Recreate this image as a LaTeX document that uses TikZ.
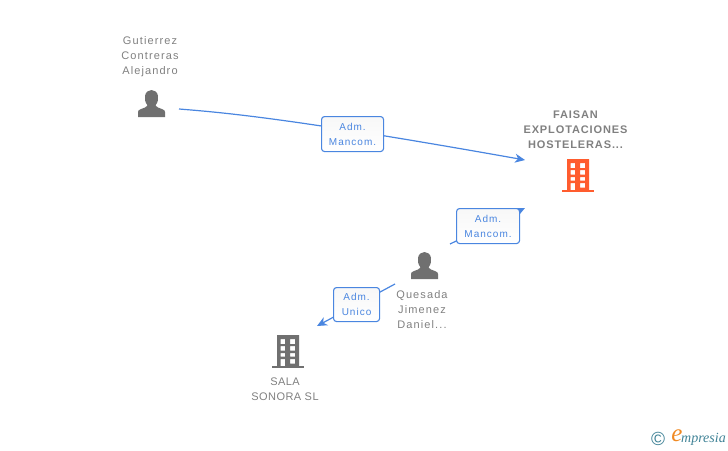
\documentclass[tikz,border=0pt]{standalone}
\usepackage{fontspec}
\setmainfont{Liberation Sans}
\newfontfamily\spaced[LetterSpace=10]{Liberation Sans}
\newfontfamily\tightspaced[LetterSpace=4]{Liberation Sans}
\newfontfamily\spacedbold[LetterSpace=8]{Liberation Sans Bold}
\newfontfamily\logofont{Liberation Serif Italic}
\usetikzlibrary{arrows.meta}
\definecolor{linkblue}{HTML}{4A86E0}
\definecolor{labelgray}{HTML}{808080}
\definecolor{icongray}{HTML}{707070}
\definecolor{iconorange}{HTML}{FF5C2E}
\definecolor{logoteal}{HTML}{3F8296}
\definecolor{logoorange}{HTML}{F08A24}
\tikzset{
  x=1pt,y=-1pt,
  namelabel/.style={text=labelgray,align=center,inner sep=0pt,
    font=\fontsize{11}{15}\selectfont\spaced},
  salalabel/.style={text=labelgray,align=center,inner sep=0pt,
    font=\fontsize{11}{15}\selectfont\tightspaced},
  boldlabel/.style={text=labelgray,align=center,inner sep=0pt,
    font=\fontsize{11}{15}\selectfont\spacedbold},
  rolebox/.style={draw=linkblue,line width=1.1pt,rounded corners=3pt,
    top color=black!3,bottom color=white,text=linkblue,align=center,
    inner sep=0pt,anchor=north west,
    font=\fontsize{10}{15}\selectfont\spaced},
  link/.style={draw=linkblue,line width=1.2pt,
    -{Stealth[length=10pt,width=9pt,inset=3pt]}},
  person/.pic={
    \fill[icongray] (-13.5,13) -- (-13.5,8) .. controls (-13.5,5.5) and (-10,5) .. (-6.5,3.5)
      -- (-4,1.5) .. controls (-6.5,-2) and (-7,-5) .. (-6.5,-8)
      .. controls (-6,-12) and (-3,-14) .. (0,-14)
      .. controls (3,-14) and (6,-12) .. (6.5,-8)
      .. controls (7,-5) and (6.5,-2) .. (4,1.5)
      -- (6.5,3.5) .. controls (10,5) and (13.5,5.5) .. (13.5,8)
      -- (13.5,13) -- cycle;
  },
  building/.pic={
    \fill[pic actions,even odd rule]
      (0,0) rectangle (22,31)
      (3.7,4) rectangle (8.2,9)
      (13,4) rectangle (18,9)
      (3.7,11) rectangle (8.2,15.5)
      (13,11) rectangle (18,15.5)
      (3.7,18) rectangle (8.2,21.5)
      (13,18) rectangle (18,21.5)
      (3.7,24) rectangle (8.2,31)
      (13,24) rectangle (18,28.5);
    \fill[pic actions] (-5,31) rectangle (27,33);
  },
}
\begin{document}
\begin{tikzpicture}
\useasboundingbox (0,0) rectangle (728,450);

% free ends of the connectors
\coordinate (g1) at (179,109);
\coordinate (f1) at (525,160);
\coordinate (q1) at (450,244);
\coordinate (f2) at (525,208);
\coordinate (q2) at (395,284);
\coordinate (s1) at (317,326);

% connectors
\draw[link] (g1) .. controls (230,113) and (300,120) .. (f1);
\draw[link] (q1) -- (f2);
\draw[link] (q2) -- (s1);

% role boxes
\node[rolebox,minimum width=62pt,minimum height=35pt] (r1) at (321,116) {\raisebox{-1pt}{Adm.}\\\raisebox{-1pt}{Mancom.}};
\node[rolebox,minimum width=63pt,minimum height=35pt] (r2) at (456,208) {\raisebox{-1pt}{Adm.}\\\raisebox{-1pt}{Mancom.}};
\node[rolebox,minimum width=46pt,minimum height=34pt] (r3) at (333,287) {\raisebox{-1pt}{Adm.}\\\raisebox{-1pt}{Unico}};

% icons
\pic at (151.5,104) {person};
\pic at (424.5,266) {person};
\pic[fill=iconorange] at (567,159) {building};
\pic[fill=icongray] at (277,335) {building};

% names
\node[namelabel] (gutierrez) at (150,56.5) {Gutierrez\\Contreras\\Alejandro};
\node[boldlabel] (faisan) at (575.5,130) {FAISAN\\EXPLOTACIONES\\HOSTELERAS...};
\node[namelabel] (quesada) at (422,309.5) {Quesada\\Jimenez\\Daniel...};
\node[salalabel] (sala) at (285,389) {SALA\\SONORA SL};

% logo
\node[inner sep=0pt,text=logoteal] (copy) at (658,438.5) {\fontsize{19}{19}\selectfont\textcopyright};
\node[inner sep=0pt,text=logoorange,font=\fontsize{25}{25}\selectfont\logofont] (logoe) at (677,436) {e};
\node[inner sep=0pt,text=logoteal,anchor=west,font=\fontsize{14}{14}\selectfont\logofont] (logotext) at (681,439) {mpresia};
\end{tikzpicture}
\end{document}
